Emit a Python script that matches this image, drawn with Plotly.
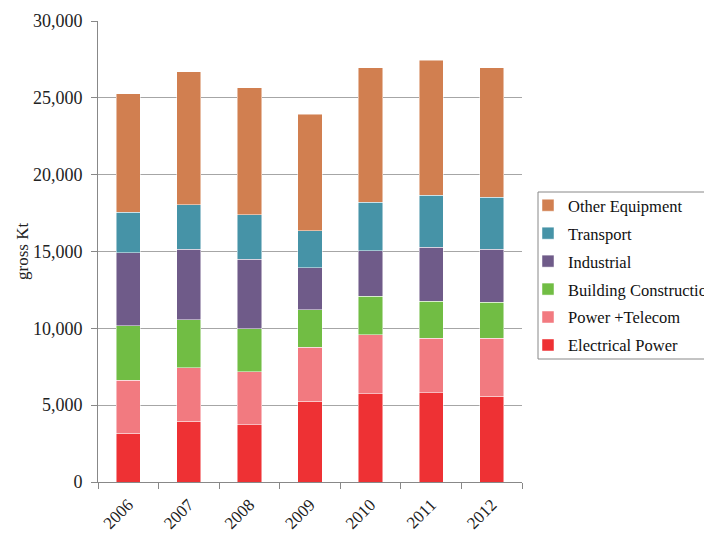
import plotly.graph_objects as go

years = ["2006", "2007", "2008", "2009", "2010", "2011", "2012"]
electrical_power = [3160, 3960, 3720, 5260, 5740, 5820, 5590]
power_telecom = [3470, 3470, 3450, 3510, 3830, 3540, 3770]
building_construction = [3530, 3120, 2790, 2430, 2520, 2400, 2340]
industrial = [4760, 4610, 4530, 2750, 2960, 3530, 3460]
transport = [2650, 2880, 2900, 2400, 3170, 3380, 3360]
other_equipment = [7690, 8670, 8280, 7570, 8750, 8780, 8450]

series = [
    ("Electrical Power", electrical_power, "#EE3134"),
    ("Power +Telecom", power_telecom, "#F27A80"),
    ("Building Construction", building_construction, "#71BD44"),
    ("Industrial", industrial, "#6F5B89"),
    ("Transport", transport, "#4693A7"),
    ("Other Equipment", other_equipment, "#D17F50"),
]

FONT = "Liberation Serif"
L, R, T, B = 98, 182, 21, 52
PW, PH = 704 - L - R, 534 - T - B


def px_x(p):
    return (p - L) / PW


def px_y(p):
    return (534 - B - p) / PH


fig = go.Figure()
n = len(series)
for i, (name, vals, col) in enumerate(series):
    fig.add_trace(go.Bar(
        x=years, y=vals, name=name, legendgroup=name, legendrank=n - i,
        marker=dict(color=col, line=dict(color="rgba(255,255,255,0.6)", width=0.8)),
    ))

fig.update_layout(
    width=704, height=534,
    barmode="stack", bargap=0.6,
    plot_bgcolor="white", paper_bgcolor="white",
    margin=dict(l=L, r=R, t=T, b=B, autoexpand=False),
    font=dict(family=FONT, size=16, color="#222"),
    showlegend=True,
    legend=dict(
        x=px_x(528), y=px_y(188), xanchor="left", yanchor="top",
        traceorder="grouped", tracegroupgap=3.5,
        bgcolor="rgba(0,0,0,0)", borderwidth=0,
        font=dict(family=FONT, size=16.5, color="#111"),
        itemwidth=30,
    ),
    shapes=[dict(
        type="rect", xref="paper", yref="paper",
        x0=px_x(538), x1=px_x(720), y0=px_y(359), y1=px_y(192),
        line=dict(color="#888", width=1), fillcolor="rgba(0,0,0,0)", layer="below",
    )],
    xaxis=dict(
        type="category", tickangle=-45,
        showline=True, linecolor="#888", linewidth=1,
        ticks="outside", tickson="boundaries", ticklen=6, tickcolor="#888",
        tickfont=dict(family=FONT, size=17, color="#222"),
        ticklabelstandoff=5,
        showgrid=False,
    ),
    yaxis=dict(
        range=[0, 30000], tickvals=[0, 5000, 10000, 15000, 20000, 25000, 30000],
        tickformat=",", showgrid=True, gridcolor="#A6A6A6", gridwidth=1,
        showline=True, linecolor="#888", linewidth=1,
        ticks="outside", ticklen=6, tickcolor="#888",
        tickfont=dict(family=FONT, size=18, color="#222"),
        ticklabelstandoff=5,
        zeroline=False,
    ),
    annotations=[dict(
        text="gross Kt", textangle=-90, showarrow=False,
        xref="paper", yref="paper", x=px_x(22), y=px_y(252),
        xanchor="center", yanchor="middle",
        font=dict(family=FONT, size=17, color="#222"),
    )],
)

fig.write_html("out.html")
